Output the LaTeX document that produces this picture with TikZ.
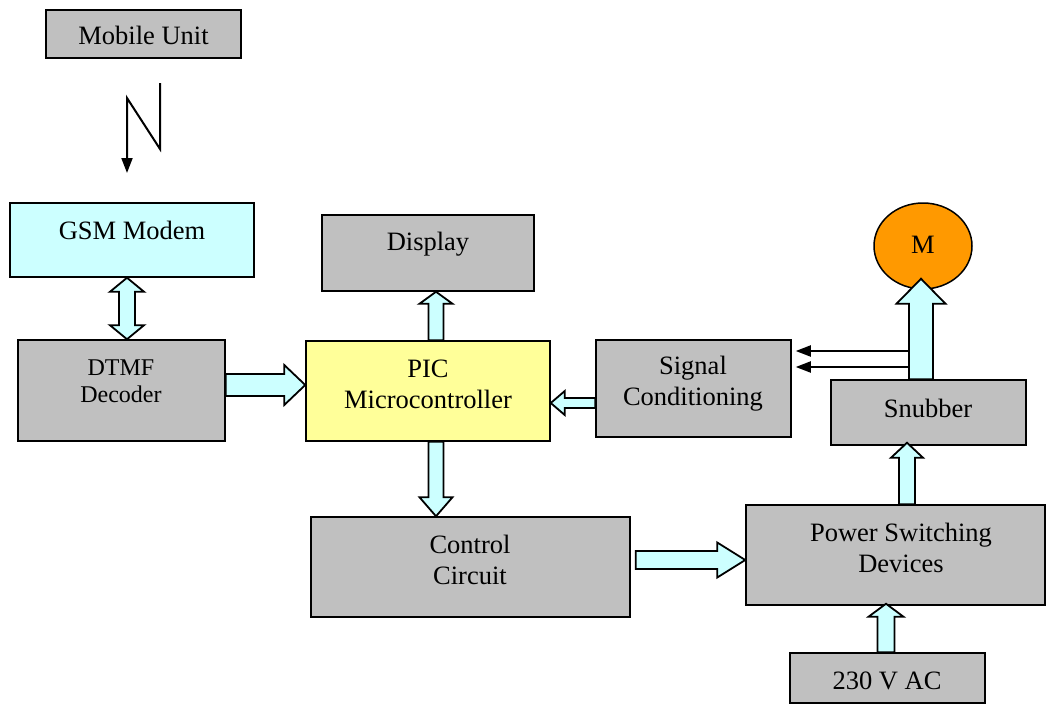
\documentclass[tikz,border=0pt]{standalone}
\usepackage{fontspec}
\setmainfont{Liberation Serif}
\usetikzlibrary{arrows.meta,calc,shapes.geometric}
\definecolor{boxgray}{HTML}{C0C0C0}
\definecolor{lcyan}{HTML}{CCFFFF}
\definecolor{lyellow}{HTML}{FFFF99}
\definecolor{morange}{HTML}{FF9900}
\newcommand\blockarr[5]{%
\draw[blk] let \p1=(#1), \p2=(#2), \n1={veclen(\x2-\x1,\y2-\y1)}, \n2={(\x2-\x1)/\n1}, \n3={(\y2-\y1)/\n1} in
 ({\x1-(\n3)*(#3)/2},{\y1+(\n2)*(#3)/2})
 -- ({\x2-(\n2)*(#5)-(\n3)*(#3)/2},{\y2-(\n3)*(#5)+(\n2)*(#3)/2})
 -- ({\x2-(\n2)*(#5)-(\n3)*(#4)/2},{\y2-(\n3)*(#5)+(\n2)*(#4)/2})
 -- (\x2,\y2)
 -- ({\x2-(\n2)*(#5)+(\n3)*(#4)/2},{\y2-(\n3)*(#5)-(\n2)*(#4)/2})
 -- ({\x2-(\n2)*(#5)+(\n3)*(#3)/2},{\y2-(\n3)*(#5)-(\n2)*(#3)/2})
 -- ({\x1+(\n3)*(#3)/2},{\y1-(\n2)*(#3)/2}) -- cycle;}
\newcommand\dblarr[5]{%
\draw[blk] let \p1=(#1), \p2=(#2), \n1={veclen(\x2-\x1,\y2-\y1)}, \n2={(\x2-\x1)/\n1}, \n3={(\y2-\y1)/\n1} in
 (\x1,\y1)
 -- ({\x1+(\n2)*(#5)-(\n3)*(#4)/2},{\y1+(\n3)*(#5)+(\n2)*(#4)/2})
 -- ({\x1+(\n2)*(#5)-(\n3)*(#3)/2},{\y1+(\n3)*(#5)+(\n2)*(#3)/2})
 -- ({\x2-(\n2)*(#5)-(\n3)*(#3)/2},{\y2-(\n3)*(#5)+(\n2)*(#3)/2})
 -- ({\x2-(\n2)*(#5)-(\n3)*(#4)/2},{\y2-(\n3)*(#5)+(\n2)*(#4)/2})
 -- (\x2,\y2)
 -- ({\x2-(\n2)*(#5)+(\n3)*(#4)/2},{\y2-(\n3)*(#5)-(\n2)*(#4)/2})
 -- ({\x2-(\n2)*(#5)+(\n3)*(#3)/2},{\y2-(\n3)*(#5)-(\n2)*(#3)/2})
 -- ({\x1+(\n2)*(#5)+(\n3)*(#3)/2},{\y1+(\n3)*(#5)-(\n2)*(#3)/2})
 -- ({\x1+(\n2)*(#5)+(\n3)*(#4)/2},{\y1+(\n3)*(#5)-(\n2)*(#4)/2})
 -- cycle;}
\begin{document}
\begin{tikzpicture}[x=1pt,y=-1pt,
  box/.style={draw=black, line width=1.5pt, fill=boxgray, inner sep=0pt},
  txt/.style={inner sep=0pt, align=center, font=\fontsize{26.5}{31}\selectfont},
  smalltxt/.style={inner sep=0pt, align=center, font=\fontsize{24}{27}\selectfont},
  blk/.style={draw=black, line width=1.8pt, fill=lcyan, line join=miter},
  thinarr/.style={draw=black, line width=2pt, -{Triangle[length=15pt,width=11pt]}}]
\useasboundingbox (0,0) rectangle (1047,704);
% boxes
\node[box, minimum width=195pt, minimum height=48pt] (mobile) at (143.5,34) {};
\node[box, fill=lcyan, minimum width=244pt, minimum height=74pt] (gsm) at (132,240) {};
\node[box, minimum width=207pt, minimum height=101pt] (dtmf) at (121.5,390.5) {};
\node[box, minimum width=212pt, minimum height=76pt] (disp) at (428,253) {};
\node[box, fill=lyellow, minimum width=244pt, minimum height=100pt] (pic) at (428,391) {};
\node[box, minimum width=195pt, minimum height=97pt] (sig) at (693.5,388.5) {};
\node[box, minimum width=195pt, minimum height=65pt] (snub) at (928.5,412.5) {};
\node[box, minimum width=319pt, minimum height=100pt] (ctrl) at (470.5,567) {};
\node[box, minimum width=299pt, minimum height=100pt] (power) at (895.5,555) {};
\node[box, minimum width=195pt, minimum height=50pt] (ac) at (887.5,678) {};
\node[ellipse, draw=black, line width=1.5pt, fill=morange, minimum width=98pt, minimum height=86pt, inner sep=0pt] (motor) at (923,246) {};
% texts
\node[txt] (mobilet) at (143.5,35) {Mobile Unit};
\node[txt] (gsmt) at (132,230) {GSM Modem};
\node[smalltxt] (dtmft) at (121,381) {DTMF\\Decoder};
\node[txt] (dispt) at (428,244) {Display};
\node[txt] (pict) at (428,384) {PIC\\Microcontroller};
\node[txt] (sigt) at (693,384) {Signal\\Conditioning};
\node[txt] (snubt) at (928,408) {Snubber};
\node[txt] (ctrlt) at (470,560) {Control\\Circuit};
\node[txt] (powert) at (901,548) {Power Switching\\Devices};
\node[txt] (act) at (887,681) {230 V AC};
\node[txt] (mt) at (923,245) {M};
% block arrows
\dblarr{[xshift=-5pt]gsm.south}{[xshift=5.5pt]dtmf.north}{16}{34}{14}
\blockarr{[yshift=5.5pt]dtmf.east}{[yshift=6pt]pic.west}{22}{40}{21}
\blockarr{[xshift=8pt]pic.north}{[xshift=8pt]disp.south}{15}{33}{12}
\blockarr{[xshift=8pt]pic.south}{[xshift=-34.5pt]ctrl.north}{15}{33}{19}
\blockarr{[yshift=-14.5pt]sig.west}{[yshift=-12pt]pic.east}{10}{24}{14}
\blockarr{[yshift=7pt, xshift=5pt]ctrl.east}{[yshift=-5pt]power.west}{18}{35}{28}
\blockarr{[xshift=-1.5pt]ac.north}{[xshift=-9.5pt, yshift=2pt]power.south}{17}{35}{13}
\blockarr{[xshift=11.5pt]power.north}{[xshift=-21.5pt, yshift=3pt]snub.south}{16}{32}{15}
\blockarr{[xshift=-7.5pt]snub.north}{[xshift=-2pt, yshift=11pt]motor.south}{24}{49}{25}
% thin arrows
\coordinate (t1) at (909,351);
\coordinate (t2) at (909,367);
\draw[thinarr, shorten >=4pt] (t1) -- (sig.east |- t1);
\draw[thinarr, shorten >=4pt] (t2) -- (sig.east |- t2);
% radio link symbol
\coordinate (z1) at (160,83);
\coordinate (z2) at (160,149);
\coordinate (z3) at (127,98);
\coordinate (z4) at (127,173);
\draw[thinarr, line join=miter] (z1) -- (z2) -- (z3) -- (z4);
\end{tikzpicture}
\end{document}
